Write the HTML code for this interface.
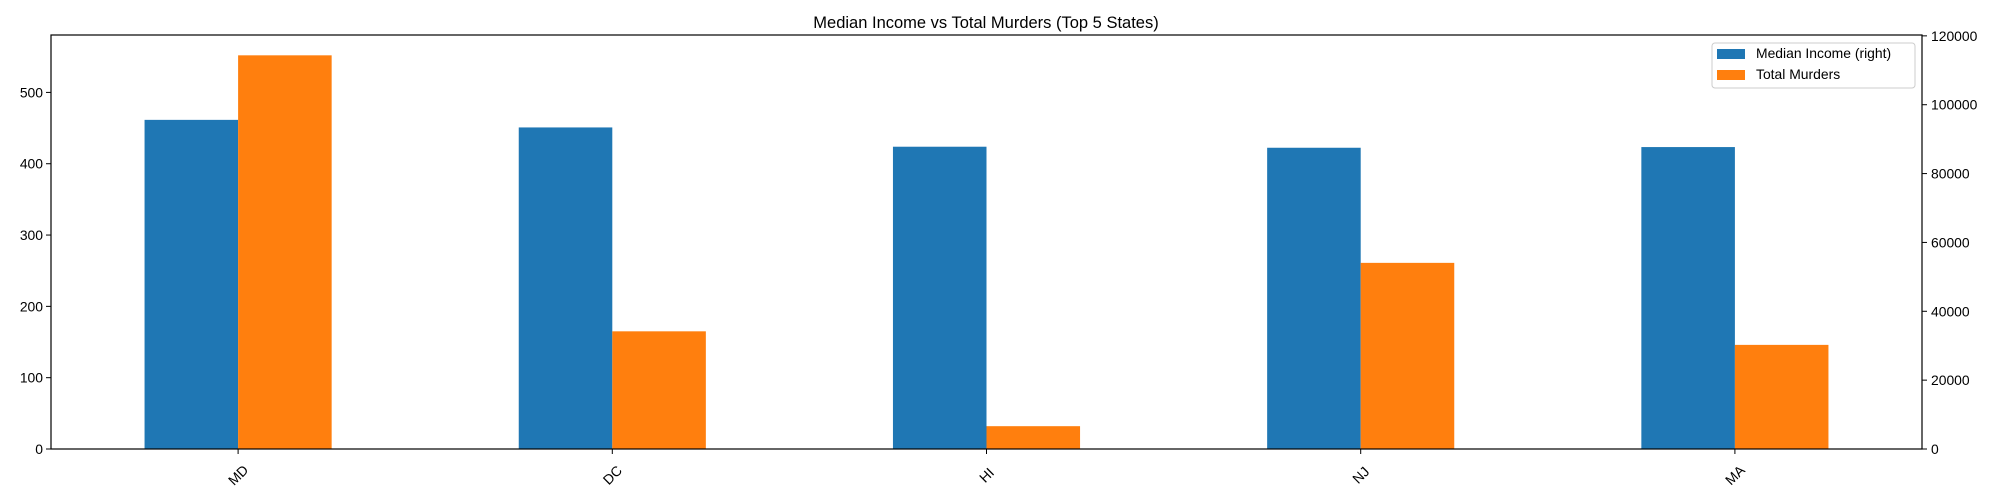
<!DOCTYPE html>
<html><head><meta charset="utf-8"><style>
html,body{margin:0;padding:0;background:#fff;}
svg{display:block;font-family:"Liberation Sans","DejaVu Sans",sans-serif;}
</style></head><body>
<svg id="chart" width="2000" height="500" viewBox="0 0 2000 500">
<text x="986" y="28" font-size="16.5" text-anchor="middle" fill="#000">Median Income vs Total Murders (Top 5 States)</text>
<g id="bars"></g>
<g id="axes"></g>
<g>
<rect x="1712" y="43" width="203" height="45" rx="3" fill="#fff" fill-opacity="0.8" stroke="#ccc"/>
<rect x="1717" y="49" width="28" height="10" fill="#1f77b4"/>
<text x="1756" y="58" font-size="13.9" fill="#000">Median Income (right)</text>
<rect x="1717" y="70" width="28" height="10" fill="#ff7f0e"/>
<text x="1756" y="79" font-size="13.9" fill="#000">Total Murders</text>
</g>
</svg>
<script>
const categories = ["MD","DC","HI","NJ","MA"];
const incomeValues = [95600,93400,87800,87500,87700];
const murderValues = [552,165,32,261,146];
const leftTicks = [0,100,200,300,400,500];
const rightTicks = [0,20000,40000,60000,80000,100000,120000];

const NS="http://www.w3.org/2000/svg";
const L=51,R=1922,T=35,B=449;
const leftMax=580.5, rightMax=120250;
const step=(R-L)/categories.length;
const xC=i=>L+step*(i+0.5);
const yL=v=>B-(v/leftMax)*(B-T);
const yR=v=>B-(v/rightMax)*(B-T);
const bw=step*0.25;
function mk(tag,attrs,parent){const e=document.createElementNS(NS,tag);for(const k in attrs)e.setAttribute(k,attrs[k]);parent.appendChild(e);return e;}
const bars=document.getElementById('bars'), axes=document.getElementById('axes');
categories.forEach((c,i)=>{
  const x=xC(i);
  let b=mk('rect',{x:x-bw,y:yR(incomeValues[i]),width:bw,height:B-yR(incomeValues[i]),fill:'#1f77b4'},bars);
  
  
  let o=mk('rect',{x:x,y:yL(murderValues[i]),width:bw,height:B-yL(murderValues[i]),fill:'#ff7f0e'},bars);
  
  
  mk('line',{x1:x,x2:x,y1:B,y2:B+5,stroke:'#000','stroke-width':1},axes);
  let t=mk('text',{x:x,y:480,'font-size':13.9,'text-anchor':'middle',transform:`rotate(-45 ${x} 475)`},axes);
  t.textContent=c;
  
  
});
leftTicks.forEach(v=>{
  const y=yL(v);
  mk('line',{x1:L-5,x2:L,y1:y,y2:y,stroke:'#000'},axes);
  let t=mk('text',{x:L-8,y:y+5,'font-size':13.9,'text-anchor':'end'},axes);
  t.textContent=v;
  
  
});
rightTicks.forEach(v=>{
  const y=yR(v);
  mk('line',{x1:R,x2:R+5,y1:y,y2:y,stroke:'#000'},axes);
  let t=mk('text',{x:R+9,y:y+5,'font-size':13.9,'text-anchor':'start'},axes);
  t.textContent=v;
  
  
});
let fr=mk('rect',{x:L,y:T,width:R-L,height:B-T,fill:'none',stroke:'#000','stroke-width':1.2},axes);


</script>
</body></html>
